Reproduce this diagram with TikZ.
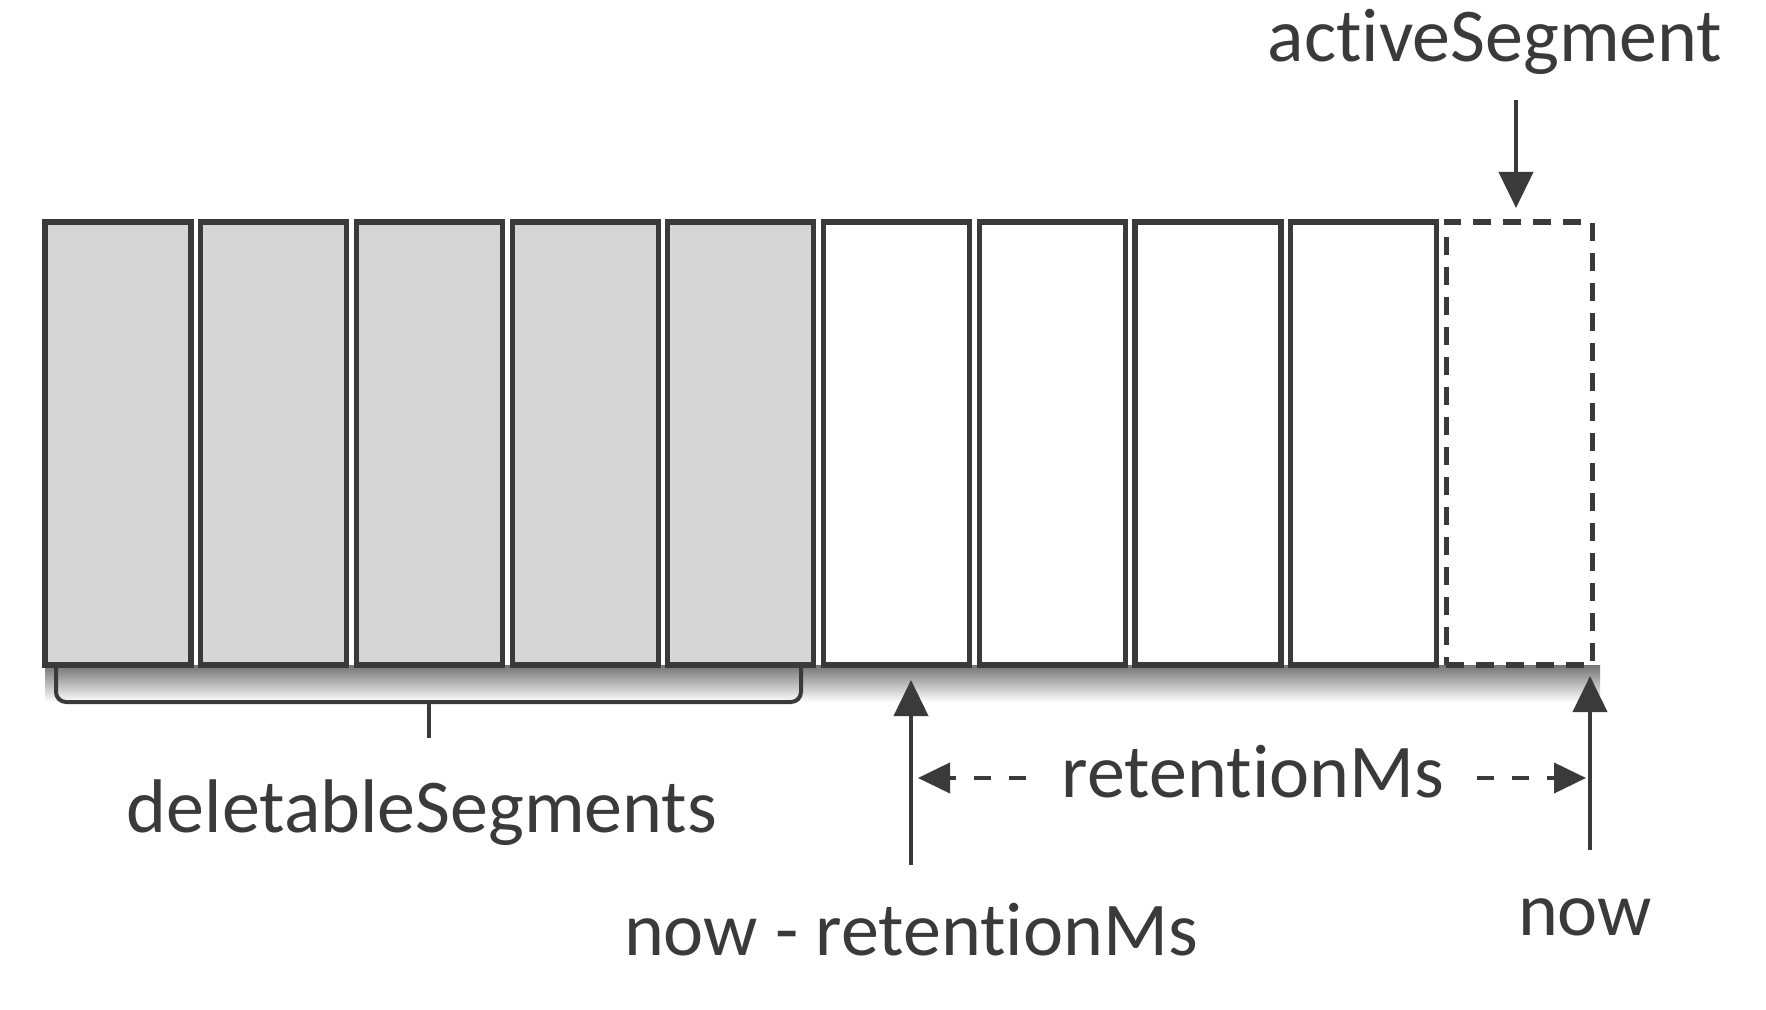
\documentclass[tikz,border=0pt]{standalone}
\usepackage{fontspec}
\setmainfont{Carlito}[Ligatures=NoCommon]
\usetikzlibrary{arrows.meta}
\definecolor{ink}{HTML}{3A3A3A}
\definecolor{segfill}{HTML}{D6D6D6}
\newcommand{\nolig}{\kern0pt{}}
\begin{document}
\begin{tikzpicture}[x=0.5pt,y=-0.5pt,
  seg/.style={draw=ink, line width=2.6pt, minimum width=73pt, minimum height=221.5pt, inner sep=0pt, outer sep=0pt},
  oldseg/.style={seg, fill=segfill},
  liveseg/.style={seg, fill=white},
  actseg/.style={seg, fill=white, dash pattern=on 9pt off 6pt},
  lbl/.style={text=ink, font=\fontsize{38}{44}\selectfont, inner sep=0pt, anchor=base},
  arr/.style={draw=ink, line width=2pt, -{Triangle[length=18pt,width=17pt]}},
  dimline/.style={draw=ink, line width=2pt, dash pattern=on 8.5pt off 9pt, -{Triangle[length=16pt,width=15pt]}},
  brk/.style={draw=ink, line width=2pt},
]
\useasboundingbox[fill=white] (0,0) rectangle (1766,1010);
% shadow under the segments
\shade[top color=black!55, bottom color=white] (45,665) rectangle (1600,702);
% segments
\foreach \i in {1,...,5} \node[oldseg] (s\i) at ({118+(\i-1)*155.7},443.5) {};
\foreach \i in {6,...,9} \node[liveseg] (s\i) at ({118+(\i-1)*155.7},443.5) {};
\node[actseg] (s10) at ({118+9*155.7},443.5) {};
% bracket under deletable segments
\draw[brk, rounded corners=5pt] (56,668) -- (56,702) -- (801,702) -- (801,668);
\coordinate (brtop) at (429,702);
\coordinate (brtip) at (429,738);
\draw[brk] (brtop) -- (brtip);
\node[lbl] (del) at (422,832) {deletableSegments};
% activeSegment label and arrow
\node[lbl] (actl) at (1495,62) {act\nolig iveSegment};
\coordinate (aS) at (1516,100);
\coordinate (aE) at (1516,208);
\draw[arr] (aS) -- (aE);
% now - retentionMs
\node[lbl] (nrm) at (911,955) {now - retent\nolig ionMs};
\coordinate (nrmS) at (911,865);
\coordinate (nrmT) at (911,680);
\draw[arr] (nrmS) -- (nrmT);
% now
\node[lbl] (now) at (1585,935) {now};
\coordinate (nowS) at (1590,850);
\coordinate (nowT) at (1590,676);
\draw[arr] (nowS) -- (nowT);
% retentionMs dimension
\node[lbl] (ret) at (1253,797) {retent\nolig ionMs};
\coordinate (dLs) at (1026,778);
\coordinate (dL) at (918,778);
\coordinate (dRs) at (1477,778);
\coordinate (dR) at (1586,778);
\draw[dimline] (dLs) -- (dL);
\draw[dimline] (dRs) -- (dR);
\end{tikzpicture}
\end{document}
